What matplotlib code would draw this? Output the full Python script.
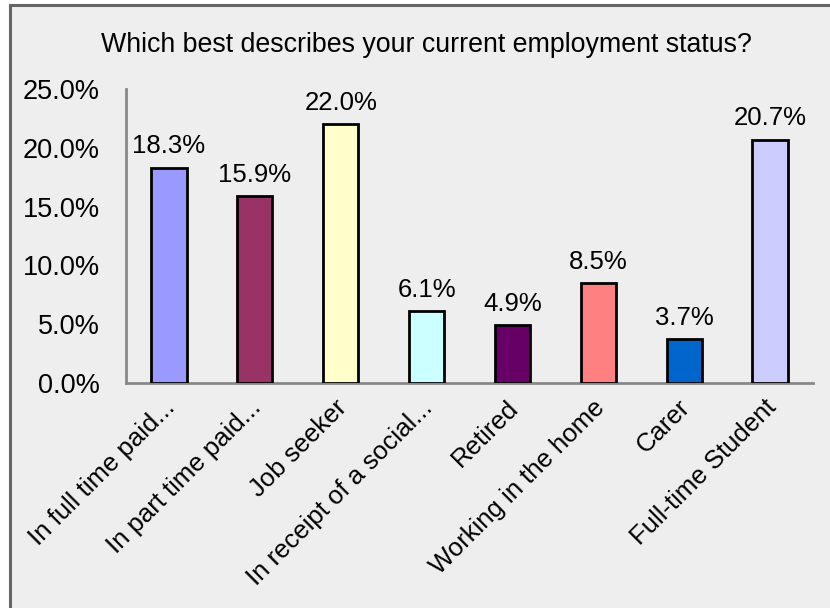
import matplotlib
matplotlib.use("Agg")
import matplotlib.pyplot as plt
from matplotlib.patches import Rectangle
from matplotlib.ticker import FuncFormatter
from matplotlib.transforms import ScaledTranslation

categories = ["In full time paid...", "In part time paid...", "Job seeker",
              "In receipt of a social...", "Retired", "Working in the home",
              "Carer", "Full-time Student"]
shares = [18.3, 15.9, 22.0, 6.1, 4.9, 8.5, 3.7, 20.7]
bar_colors = ["#9999FF", "#993366", "#FFFFCC", "#CCFFFF",
              "#660066", "#FF8080", "#0066CC", "#CCCCFF"]
yticks = [0, 5, 10, 15, 20, 25]

plt.rcParams["font.family"] = ["Liberation Sans", "DejaVu Sans"]

BG = "#eeeeee"
SPINE = "#888888"

fig = plt.figure(figsize=(8.3, 6.08), dpi=100, facecolor="white")
# chart-area panel with its grey frame (right and bottom edges run off the page)
fig.patches.append(Rectangle((9.5 / 830, -0.1), 1.0, 1.1 - 5.5 / 608,
                             transform=fig.transFigure, facecolor=BG,
                             edgecolor="#666666", linewidth=2.2, zorder=-5))

ax = fig.add_axes([126 / 830, 1 - 383 / 608, (813 - 126) / 830, (383 - 89) / 608])
ax.set_facecolor(BG)

x = range(len(categories))
ax.bar(x, shares, width=0.41, color=bar_colors, edgecolor="black",
       linewidth=2.0, zorder=3)
for xi, v in zip(x, shares):
    ax.text(xi, v + 0.8, f"{v:.1f}%", ha="center", va="bottom",
            fontsize=18.5, color="black")

ax.set_xlim(-0.5, len(categories) - 0.5)
ax.set_ylim(0, 25)
ax.set_yticks(yticks)
ax.yaxis.set_major_formatter(FuncFormatter(lambda v, _: f"{v:.1f}%"))
ax.tick_params(axis="y", length=0, pad=19, labelsize=19.5)
ax.set_xticks(list(x))
ax.set_xticklabels(categories, rotation=45, ha="right",
                   rotation_mode="anchor", fontsize=18.5)
ax.tick_params(axis="x", length=0, pad=9)
# nudge the slanted labels a little left so their ends sit under the bars
shift = ScaledTranslation(-0.06, 0, fig.dpi_scale_trans)
for lbl in ax.get_xticklabels():
    lbl.set_transform(lbl.get_transform() + shift)

for side in ("top", "right"):
    ax.spines[side].set_visible(False)
for side in ("left", "bottom"):
    ax.spines[side].set_color(SPINE)
    ax.spines[side].set_linewidth(2.0)

fig.text(426 / 830, 1 - 45 / 608,
         "Which best describes your current employment status?",
         ha="center", va="center", fontsize=19.3, color="black")

fig.savefig("out.png", dpi=100, facecolor="white")
